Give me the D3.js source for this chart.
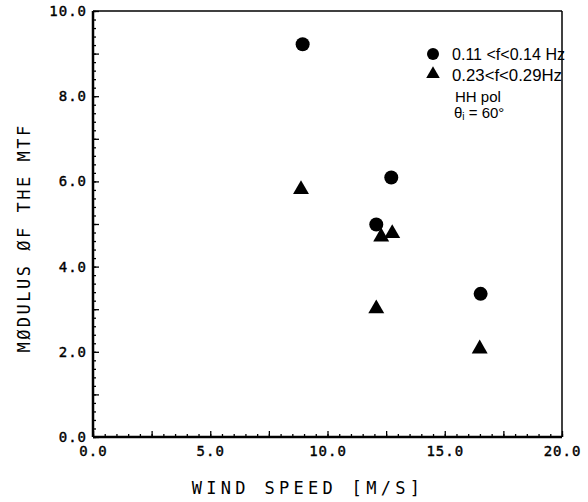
<!DOCTYPE html>
<html>
<head>
<meta charset="utf-8">
<script src="https://cdn.jsdelivr.net/npm/d3@7"></script>
<style>
body { margin: 0; background: #fff; }
.tick text { font-family: "DejaVu Sans Mono", monospace; font-size: 14px; letter-spacing: 1px; fill: #000; stroke: #000; stroke-width: 0.4px; }
.domain { display: none; }
.tick line { stroke: #000; stroke-width: 1.3; }
</style>
</head>
<body>
<div id="chart"></div>
<script>
// wind speed [m/s] and modulus of the MTF
var lowBandWind = [8.94, 12.72, 12.08, 16.53],
	lowBandMtf = [9.22, 6.09, 4.99, 3.36];
var highBandWind = [8.87, 12.29, 12.76, 12.08, 16.49],
	highBandMtf = [5.81, 4.70, 4.78, 3.01, 2.07];

var xLabelTicks = [0, 5, 10, 15, 20],
	yLabelTicks = [0, 2, 4, 6, 8, 10];

var legendLabels = ["0.11 <f<0.14 Hz", "0.23<f<0.29Hz"];

var W = 588, H = 502;
var margin = {left: 93, top: 11, right: 26, bottom: 65};
var w = W - margin.left - margin.right,
	h = H - margin.top - margin.bottom;

var svg = d3.select("#chart").append("svg")
	.attr("width", W)
	.attr("height", H)
		.append("g")
	.attr("transform", "translate(" + margin.left + "," + margin.top + ")");

var x = d3.scaleLinear().domain([0, 20]).range([0, w]);
var y = d3.scaleLinear().domain([0, 10]).range([h, 0]);

// minor / medium ticks on x
var xMinor = d3.range(0, 20.01, 0.5),
	xMed = d3.range(0, 20.01, 2.5);
svg.append("g").attr("transform", "translate(0," + h + ")")
	.call(d3.axisBottom(x).tickValues(xMinor).tickSize(-3).tickFormat(""));
svg.append("g").attr("transform", "translate(0," + h + ")")
	.call(d3.axisBottom(x).tickValues(xMed).tickSize(-6).tickFormat(""));
svg.append("g").attr("transform", "translate(0," + h + ")")
	.call(d3.axisBottom(x).tickValues(xLabelTicks).tickSize(0).tickPadding(9).tickFormat(d3.format(".1f")));

var yMinor = d3.range(0, 10.01, 0.2),
	yMed = d3.range(0, 10.01, 1);
svg.append("g").call(d3.axisLeft(y).tickValues(yMinor).tickSize(-3).tickFormat(""));
svg.append("g").call(d3.axisLeft(y).tickValues(yMed).tickSize(-6).tickFormat(""));
svg.append("g").call(d3.axisLeft(y).tickValues(yLabelTicks).tickSize(0).tickPadding(6).tickFormat(d3.format(".1f")));

// frame
svg.append("line").attr("x1", 0).attr("y1", 0).attr("x2", 0).attr("y2", h)
	.style("stroke", "black").style("stroke-width", 2.5);
svg.append("line").attr("x1", 0).attr("y1", h).attr("x2", w).attr("y2", h)
	.style("stroke", "black").style("stroke-width", 2.5);
svg.append("line").attr("x1", 0).attr("y1", 0).attr("x2", w).attr("y2", 0)
	.style("stroke", "black").style("stroke-width", 1.5);
svg.append("line").attr("x1", w).attr("y1", 0).attr("x2", w).attr("y2", h)
	.style("stroke", "black").style("stroke-width", 1.5);

// axis titles
svg.append("text")
	.attr("x", 215)
	.attr("y", h + 57)
	.attr("text-anchor", "middle")
	.style("font-family", "DejaVu Sans Mono, monospace")
	.style("font-size", "17px")
	.style("letter-spacing", "4.3px")
	.text("WIND SPEED [M/S]");

svg.append("text")
	.attr("transform", "translate(-63,227) rotate(-90)")
	.attr("text-anchor", "middle")
	.style("font-family", "DejaVu Sans Mono, monospace")
	.style("font-size", "17px")
	.style("letter-spacing", "2.5px")
	.text("MØDULUS ØF THE MTF");

// points
var tri = d3.symbol().type(d3.symbolTriangle).size(110);

svg.selectAll(".lowBand")
	.data(lowBandWind)
	.enter().append("circle")
	.attr("class", "lowBand")
	.attr("cx", function(d) { return x(d); })
	.attr("cy", function(d, i) { return y(lowBandMtf[i]); })
	.attr("r", 7)
	.style("fill", "black");

svg.selectAll(".highBand")
	.data(highBandWind)
	.enter().append("path")
	.attr("class", "highBand")
	.attr("d", tri)
	.attr("transform", function(d, i) { return "translate(" + x(d) + "," + y(highBandMtf[i]) + ")"; })
	.style("fill", "black");

// legend
var legend = svg.append("g").attr("transform", "translate(" + (433 - margin.left) + "," + (54 - margin.top) + ")");

legend.append("circle").attr("cx", 0).attr("cy", 0).attr("r", 6).style("fill", "black");
legend.append("path").attr("d", d3.symbol().type(d3.symbolTriangle).size(80))
	.attr("transform", "translate(0,20)").style("fill", "black");

legend.selectAll(".legText")
	.data(legendLabels)
	.enter().append("text")
	.attr("class", "legText")
	.attr("x", 19)
	.attr("y", function(d, i) { return 6 + i * 21; })
	.attr("textLength", function(d, i) { return i == 0 ? 113 : 110; })
	.attr("lengthAdjust", "spacingAndGlyphs")
	.style("font-family", "Liberation Sans Narrow, Liberation Sans, sans-serif")
	.style("font-size", "16px")
	.text(function(d) { return d; });

legend.append("text")
	.attr("x", 22)
	.attr("y", 48)
	.style("font-family", "Liberation Sans Narrow, Liberation Sans, sans-serif")
	.style("font-size", "15px")
	.text("HH pol");

var thetaText = legend.append("text")
	.attr("x", 21)
	.attr("y", 64)
	.style("font-family", "Liberation Sans Narrow, Liberation Sans, sans-serif")
	.style("font-size", "15px");
thetaText.append("tspan").text("θ");
thetaText.append("tspan").attr("font-size", "10px").attr("dy", 2).text("i");
thetaText.append("tspan").attr("dy", -2).text(" = 60°");
</script>
</body>
</html>
